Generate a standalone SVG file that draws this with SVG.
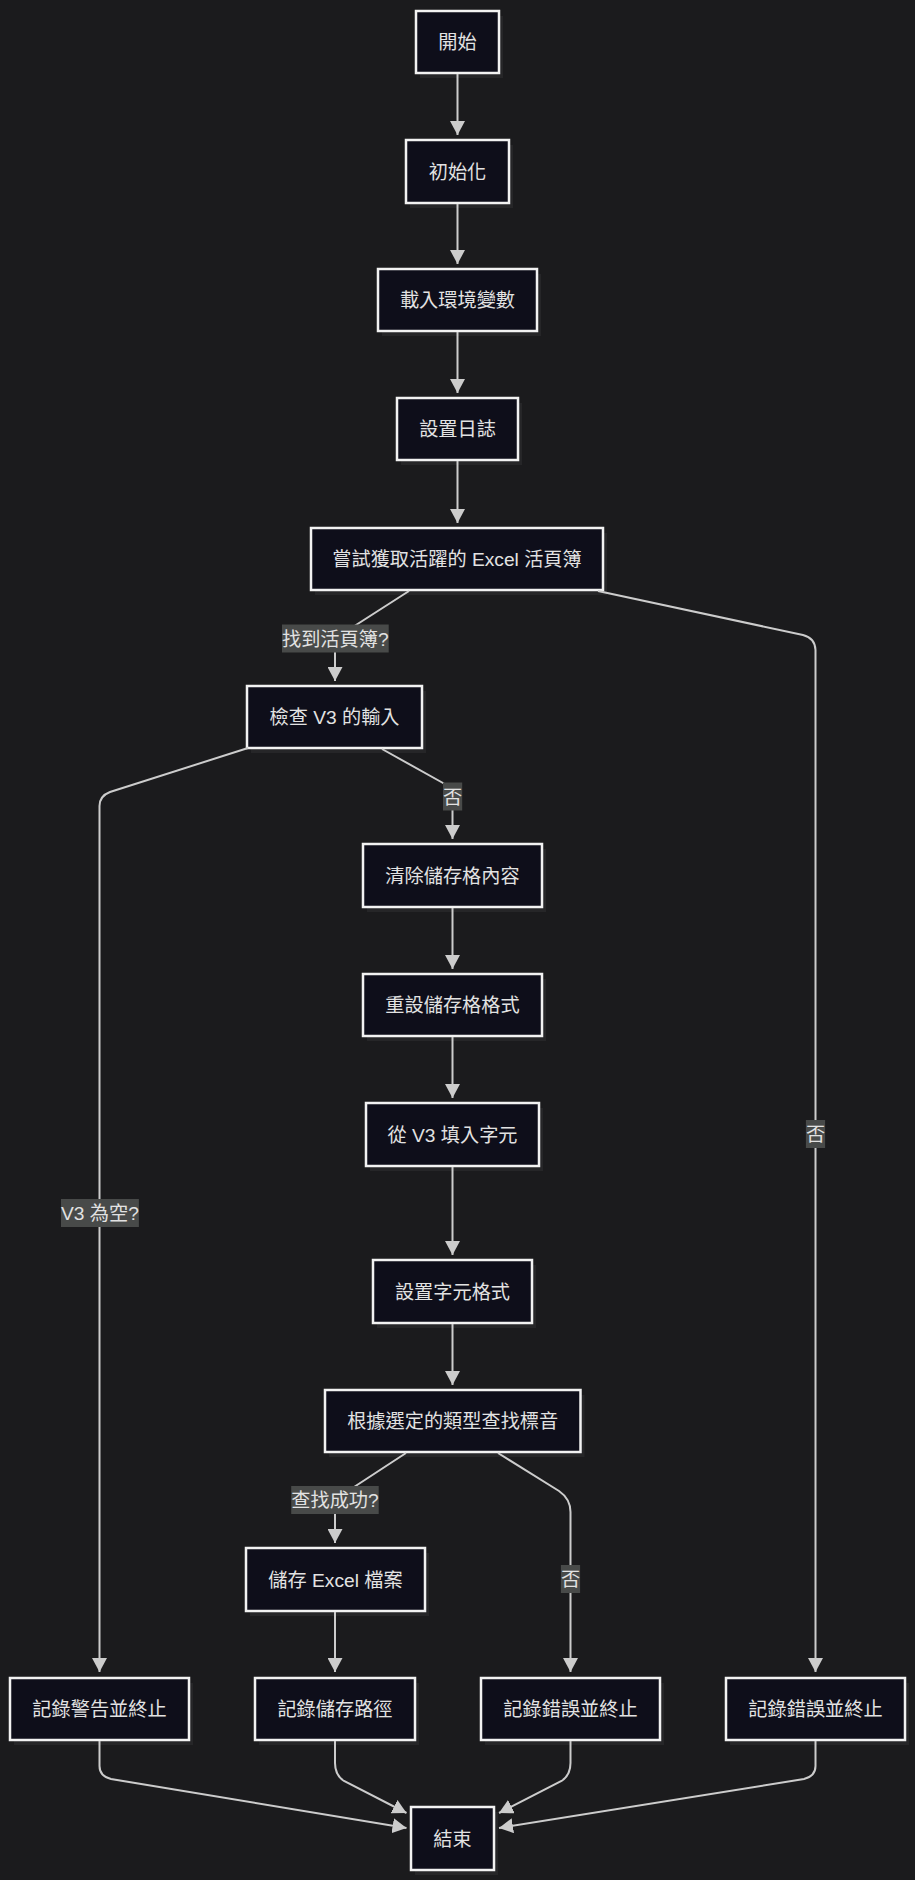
<svg xmlns="http://www.w3.org/2000/svg" width="915" height="1880" viewBox="0 0 915 1880">
<style>
.bg{fill:#1b1b1d}
.sh{fill:#262628}
.nd{fill:#0e0e1a;stroke:#f2f2f2;stroke-width:2.5}
.tx{font-family:"Liberation Sans","Noto Sans CJK TC",sans-serif;font-size:19.2px;fill:#e2e2e2;text-anchor:middle}
.ed{fill:none;stroke:#cccccc;stroke-width:2}
.lb{fill:#484a49}
</style>
<defs>
<marker id="arr" viewBox="0 0 14 15" refX="14" refY="7.5" markerWidth="14" markerHeight="15" markerUnits="userSpaceOnUse" orient="auto"><path d="M0,0 L14,7.5 L0,15 z" fill="#cccccc"/></marker>
</defs>
<rect class="bg" x="0" y="0" width="915" height="1880"/>

<g id="n-start"><rect class="sh" x="420" y="16" width="83" height="62"/><rect class="nd" x="416" y="11" width="83" height="62"/><text class="tx" x="457.5" y="49">開始</text></g>
<g id="n-init"><rect class="sh" x="410" y="145" width="103" height="63"/><rect class="nd" x="406" y="140" width="103" height="63"/><text class="tx" x="457.5" y="178.5">初始化</text></g>
<g id="n-env"><rect class="sh" x="382" y="274" width="159" height="62"/><rect class="nd" x="378" y="269" width="159" height="62"/><text class="tx" x="457.5" y="307">載入環境變數</text></g>
<g id="n-log"><rect class="sh" x="401" y="403" width="121" height="62"/><rect class="nd" x="397" y="398" width="121" height="62"/><text class="tx" x="457.5" y="436">設置日誌</text></g>
<g id="n-try"><rect class="sh" x="315" y="533" width="292" height="62"/><rect class="nd" x="311" y="528" width="292" height="62"/><text class="tx" x="457" y="566">嘗試獲取活躍的 Excel 活頁簿</text></g>
<g id="n-check"><rect class="sh" x="251" y="691" width="175" height="62"/><rect class="nd" x="247" y="686" width="175" height="62"/><text class="tx" x="334.5" y="724">檢查 V3 的輸入</text></g>
<g id="n-clear"><rect class="sh" x="367" y="849" width="179" height="63"/><rect class="nd" x="363" y="844" width="179" height="63"/><text class="tx" x="452.5" y="882.5">清除儲存格內容</text></g>
<g id="n-reset"><rect class="sh" x="367" y="979" width="179" height="62"/><rect class="nd" x="363" y="974" width="179" height="62"/><text class="tx" x="452.5" y="1012">重設儲存格格式</text></g>
<g id="n-fill"><rect class="sh" x="370" y="1108" width="173" height="63"/><rect class="nd" x="366" y="1103" width="173" height="63"/><text class="tx" x="452.5" y="1141.5">從 V3 填入字元</text></g>
<g id="n-fmt"><rect class="sh" x="377" y="1265" width="159" height="63"/><rect class="nd" x="373" y="1260" width="159" height="63"/><text class="tx" x="452.5" y="1298.5">設置字元格式</text></g>
<g id="n-lookup"><rect class="sh" x="329" y="1395" width="255.5" height="62"/><rect class="nd" x="325" y="1390" width="255.5" height="62"/><text class="tx" x="452.7" y="1428">根據選定的類型查找標音</text></g>
<g id="n-save"><rect class="sh" x="250" y="1553" width="179" height="63"/><rect class="nd" x="246" y="1548" width="179" height="63"/><text class="tx" x="335.5" y="1586.5">儲存 Excel 檔案</text></g>
<g id="n-warn"><rect class="sh" x="14" y="1683" width="179" height="62"/><rect class="nd" x="10" y="1678" width="179" height="62"/><text class="tx" x="99.5" y="1716">記錄警告並終止</text></g>
<g id="n-path"><rect class="sh" x="259" y="1683" width="160" height="62"/><rect class="nd" x="255" y="1678" width="160" height="62"/><text class="tx" x="335" y="1716">記錄儲存路徑</text></g>
<g id="n-err1"><rect class="sh" x="485" y="1683" width="179" height="62"/><rect class="nd" x="481" y="1678" width="179" height="62"/><text class="tx" x="570.5" y="1716">記錄錯誤並終止</text></g>
<g id="n-err2"><rect class="sh" x="730" y="1683" width="179" height="62"/><rect class="nd" x="726" y="1678" width="179" height="62"/><text class="tx" x="815.5" y="1716">記錄錯誤並終止</text></g>
<g id="n-end"><rect class="sh" x="415" y="1812" width="83" height="63"/><rect class="nd" x="411" y="1807" width="83" height="63"/><text class="tx" x="452.5" y="1845.5">結束</text></g>

<g id="edges">
<path class="ed" marker-end="url(#arr)" d="M457.5,74 L457.5,135"/>
<path class="ed" marker-end="url(#arr)" d="M457.5,204 L457.5,264"/>
<path class="ed" marker-end="url(#arr)" d="M457.5,332 L457.5,393"/>
<path class="ed" marker-end="url(#arr)" d="M457.5,461 L457.5,523"/>
<path class="ed" marker-end="url(#arr)" d="M409,591 L335,638.5 L335,681"/>
<path class="ed" marker-end="url(#arr)" d="M598,591 L803,635 Q815,638 815.5,650 L815.5,1672"/>
<path class="ed" marker-end="url(#arr)" d="M248,748 L110,792 Q99.5,796 99.5,806 L99.5,1672"/>
<path class="ed" marker-end="url(#arr)" d="M382,749 L443,783 Q452.5,789 452.5,798 L452.5,839"/>
<path class="ed" marker-end="url(#arr)" d="M452.5,908 L452.5,969"/>
<path class="ed" marker-end="url(#arr)" d="M452.5,1037 L452.5,1098"/>
<path class="ed" marker-end="url(#arr)" d="M452.5,1167 L452.5,1255"/>
<path class="ed" marker-end="url(#arr)" d="M452.5,1324 L452.5,1385"/>
<path class="ed" marker-end="url(#arr)" d="M406,1453 L335,1499.5 L335,1543"/>
<path class="ed" marker-end="url(#arr)" d="M498,1453 L559,1491 Q570.5,1499 570.5,1512 L570.5,1672"/>
<path class="ed" marker-end="url(#arr)" d="M335,1612 L335,1672"/>
<path class="ed" marker-end="url(#arr)" d="M99.5,1741 L99.5,1766 Q99.5,1776 111,1779 L406.5,1828"/>
<path class="ed" marker-end="url(#arr)" d="M335,1741 L335,1763 Q335,1775 344,1781 L406.5,1813"/>
<path class="ed" marker-end="url(#arr)" d="M570.5,1741 L570.5,1763 Q570.5,1775 561.5,1781 L499,1813"/>
<path class="ed" marker-end="url(#arr)" d="M815.5,1741 L815.5,1766 Q815.5,1776 804,1779 L499,1828"/>
</g>

<g id="edge-labels">
<rect class="lb" x="282" y="624.5" width="106.7" height="28"/><text class="tx" x="335.3" y="645.5">找到活頁簿?</text>
<rect class="lb" x="443" y="782.5" width="19.2" height="28"/><text class="tx" x="452.6" y="803.5">否</text>
<rect class="lb" x="61" y="1199" width="77.9" height="28"/><text class="tx" x="99.9" y="1220">V3 為空?</text>
<rect class="lb" x="805.9" y="1120" width="19.2" height="28"/><text class="tx" x="815.5" y="1141">否</text>
<rect class="lb" x="291.2" y="1486" width="87.5" height="28"/><text class="tx" x="335" y="1507">查找成功?</text>
<rect class="lb" x="560.9" y="1565" width="19.2" height="28"/><text class="tx" x="570.5" y="1586">否</text>
</g>
</svg>
